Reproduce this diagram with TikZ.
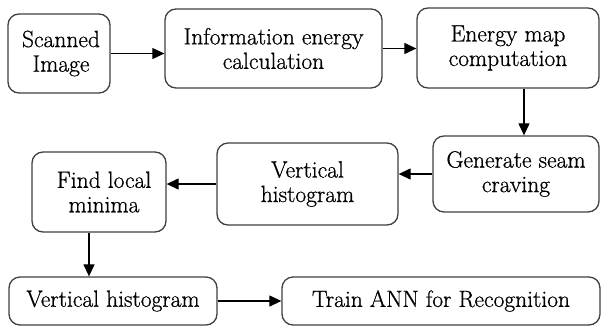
\documentclass[tikz,border=0pt]{standalone}
\usepackage{fontspec}
\newfontfamily\txtfont{Latin Modern Roman}[FakeBold=0.7]
\usetikzlibrary{arrows.meta}
\begin{document}
\begin{tikzpicture}[x=1pt,y=-1pt,
  box/.style={draw=black!75, line width=1.3pt, rounded corners=11pt, fill=white,
    align=center, inner sep=0pt, font=\txtfont\fontsize{23.5}{24.5}\selectfont},
  arr/.style={draw=black, line width=1.2pt, -{Triangle[length=12pt,width=11pt]}}]
\useasboundingbox (0,0) rectangle (601,327);
\node[box, minimum width=102pt, minimum height=79pt] (scan) at (59,53.5) {\hspace*{4pt}Scanned\\\hspace*{4pt}Image};
\node[box, minimum width=217pt, minimum height=79pt] (info) at (273.5,48.5) {Information energy\\calculation};
\node[box, minimum width=182pt, minimum height=80pt] (emap) at (508,48) {Energy map\\computation};
\node[box, minimum width=166pt, minimum height=76pt] (gen) at (516,174) {Generate seam\\craving};
\node[box, minimum width=181pt, minimum height=82pt] (vhist) at (307.5,184) {Vertical\\histogram};
\node[box, minimum width=134pt, minimum height=80pt] (find) at (99,192) {\hspace*{10pt}Find local\\\hspace*{10pt}minima};
\node[box, minimum width=208pt, minimum height=48pt] (vhist2) at (113,301) {Vertical histogram};
\node[box, minimum width=318pt, minimum height=48pt] (ann) at (441,301) {Train ANN for Recognition};
\draw[arr] (scan.east) -- (scan.east -| info.west);
\draw[arr] (info.east) -- (info.east -| emap.west);
\draw[arr] ([xshift=16pt]emap.south) -- ([xshift=16pt]emap.south |- gen.north);
\draw[arr] (gen.west) -- (gen.west -| vhist.east);
\draw[arr] (vhist.west) -- (vhist.west -| find.east);
\draw[arr] ([xshift=-10pt]find.south) -- ([xshift=-10pt]find.south |- vhist2.north);
\draw[arr] (vhist2.east) -- (ann.west);
\end{tikzpicture}
\end{document}
